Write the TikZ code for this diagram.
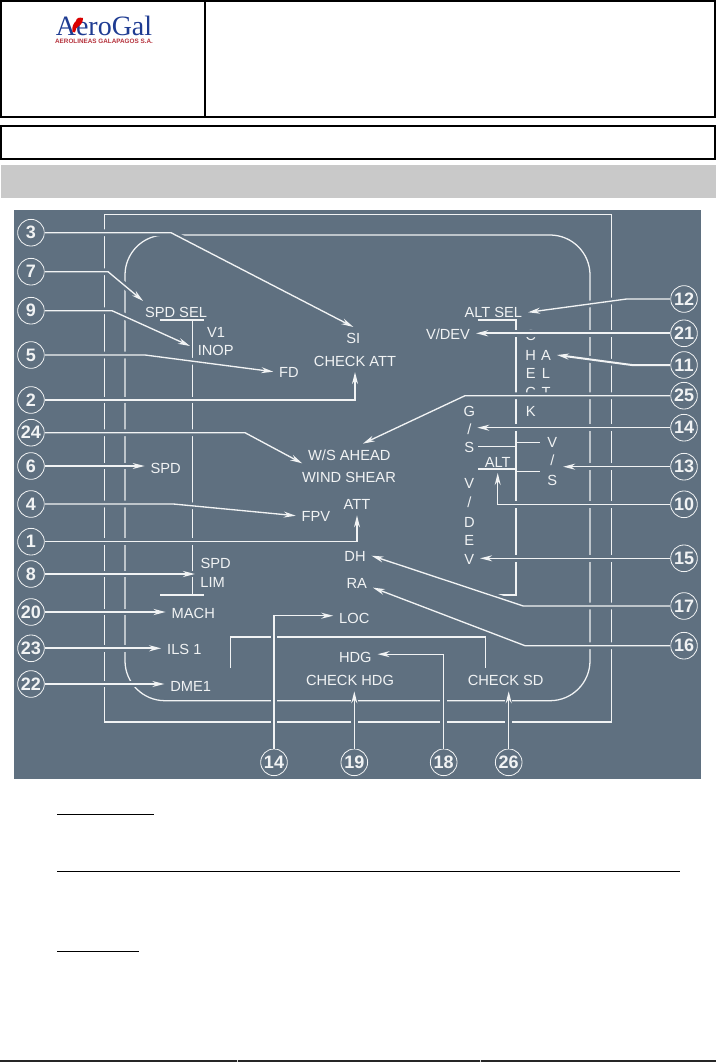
\documentclass[tikz,border=0pt]{standalone}
\usepackage{fontspec}
\setmainfont{Liberation Sans}
\newfontfamily\logofont{Liberation Serif}
\usepackage{xcolor}
\usepackage{tikz}
\usetikzlibrary{positioning, arrows.meta}

\definecolor{panelbg}{HTML}{5F7080}
\definecolor{inkline}{HTML}{F1F3F4}
\definecolor{logoblue}{HTML}{1F3C92}
\definecolor{logored}{HTML}{B5323C}

\tikzset{
    frame/.style={draw=inkline, line width=0.95pt},
    box/.style={draw=black, line width=1.5pt},
    lbl/.style={font=\fontsize{11}{12}\selectfont, text=inkline, text height=8pt, text depth=0pt, inner sep=2.5pt, outer sep=2pt},
    num/.style={circle, draw=inkline, line width=0.6pt, minimum size=20pt, inner sep=0pt, text=inkline, font=\fontsize{13.5}{14}\selectfont\bfseries},
    leader/.style={draw=inkline, line width=1pt, -{Stealth[length=9pt, width=4.5pt]}, preaction={draw=panelbg, line width=5pt, -}},
    heavy/.style={line width=1.5pt}
}

\begin{document}
\begin{tikzpicture}[x=0.75pt, y=-0.75pt]

\useasboundingbox (0,0) rectangle (716,1062);

\draw[box] (1,1) rectangle (715,117);
\draw[box] (204.7,1) -- (204.7,117);
\draw[box] (1,126) rectangle (715,158.7);
\fill[black!21] (1,165) rectangle (716,198);

\node[font=\logofont\fontsize{21}{22}\selectfont, text=logoblue, inner sep=0pt, text height=14pt, text depth=0pt] (logoname) at (104,26) {AeroGal};
\node[font=\fontsize{4.75}{5}\selectfont\bfseries, text=logored, inner sep=0pt, text height=3.4pt, text depth=0pt] (logosub) at (104,41.3) {AEROLINEAS GALAPAGOS S.A.};
\fill[red!85!black] (72.5,32) .. controls (71.5,26) and (74,23) .. (76,21) .. controls (76.5,18) and (79,17) .. (83,18) -- (82.5,21.5) .. controls (81,25.5) and (78,26) .. (76.5,28) -- (75,32.5) -- cycle;

\fill[panelbg] (14,210) rectangle (701,779);
\draw[frame] (104.5,214.7) rectangle (611.7,722);
\draw[frame, rounded corners=30pt] (125,235) rectangle (590,700.7);

\draw[frame] (160,320) -- (204,320);
\draw[frame] (192.3,320) -- (192.3,595);
\draw[frame] (160,595) -- (204,595);
\draw[frame] (477.7,320) -- (516,320) -- (516,595) -- (496.7,595);
\draw[frame] (478,446.7) -- (516,446.7);
\draw[frame] (516,442.7) -- (540,442.7);
\draw[frame] (478,469) -- (516,469) -- (516,471.7) -- (540,471.7);
\draw[frame] (230.7,668) -- (230.7,637) -- (485.7,637) -- (485.7,667.7);

\foreach \name/\x/\y/\txt in {
    lSpdSel/176/312.3/SPD SEL, lVone/216/331.7/V1, lInop/215.7/350/INOP, lFd/289/371.7/FD,
    lSi/353.3/338.3/SI, lChkAtt/355/360.7/CHECK ATT, lWsAhead/349.3/455/{W/S AHEAD}, lWindSh/349/476.7/WIND SHEAR,
    lSpd/165.7/467.7/SPD, lAtt/357/504/ATT, lFpv/316/515.7/FPV, lSpdLim/215.7/562.7/SPD, lLim/212.7/581.7/LIM,
    lMach/193.3/612.7/MACH, lIls/184.3/649.3/ILS 1, lDme/190.7/686/DME1, lDh/355/555.7/DH, lRa/356.7/583.3/RA,
    lLoc/354.3/618.3/LOC, lHdg/355.3/657.3/HDG, lChkHdg/350/680/CHECK HDG, lChkSd/505.7/680/CHECK SD,
    lAltSel/493.3/312.3/ALT SEL, lVdev/448/334.3/{V/DEV}, lAltBar/497.7/461.7/ALT,
    chkC/530.7/335/C, chkH/530.7/355/H, chkE/530.7/373.5/E, chkCc/530.7/392.5/C, chkK/530.7/411.5/K,
    altA/546/355/A, altL/546/373.5/L, altT/546/392.5/T,
    gsG/469.3/411/G, gsSl/469.3/429.3/{/}, gsS/469.3/446.7/S,
    vsV/552.3/441.7/V, vsSl/552.3/460/{/}, vsS/552.3/480/S,
    vdV/469.3/483.3/V, vdSl/469.3/501.7/{/}, vdD/469.3/521.7/D, vdE/469.3/540/E, vdVv/469.3/559.3/V} {
    \node[lbl] (\name) at (\x,\y) {\txt};
}

\foreach \i/\y in {3/232.7, 7/271.7, 9/310.7, 5/355, 2/400, 24/432.7, 6/466, 4/504, 1/541.7, 8/574, 20/612, 23/648.3, 22/684} {
    \node[num] (n\i) at (31,\y) {\i};
}
\foreach \i/\lab/\y in {12/12/299, 21/21/333.3, 11/11/365, 25/25/395.7, 14r/14/427.7, 13/13/466.7, 10/10/504.3, 15/15/558.3, 17/17/606, 16/16/645.7} {
    \node[num] (n\i) at (684,\y) {\lab};
}
\foreach \i/\lab/\x in {14b/14/274, 19/19/354.3, 18/18/443.7, 26/26/508.7} {
    \node[num] (n\i) at (\x,762.3) {\lab};
}

\coordinate (tipNine) at (190,346);
\coordinate (tipEight) at (195,574);

\draw[leader] (n3) -- (171,232.7) -- (lSi.north);
\draw[leader] (n7) -- (108,271.7) -- (lSpdSel.161);
\draw[leader] (n9) -- (112,310.7) -- (tipNine);
\draw[leader] (n5) -- (145,355) -- (lFd.west);
\draw[leader] (n2) -| (lChkAtt.south);
\draw[leader] (n24) -- (245,432.7) -- (lWsAhead.190);
\draw[leader] (n6) -- (n6 -| lSpd.west);
\draw[leader] (n4) -- (173.3,504) -- (lFpv.west);
\draw[leader] (n1) -| (lAtt.south);
\draw[leader, heavy] (n8) -- (tipEight);
\draw[leader, heavy] (n20) -- (n20 -| lMach.west);
\draw[leader, heavy] (n23) -- (n23 -| lIls.west);
\draw[leader] (n22) -- (n22 -| lDme.west);

\draw[leader] (n12) -- (626.7,299) -- (lAltSel.east);
\draw[leader, heavy] (n21) -- (n21 -| lVdev.east);
\draw[leader, heavy] (n11) -- (631.7,365) -- (altA.east);
\draw[leader] (n25) -- (465,395.7) -- (lWsAhead.40);
\draw[leader] (n14r) -- (n14r -| gsSl.east);
\draw[leader] (n13) -- (n13 -| vsS.east);
\draw[leader] (n10) -| (lAltBar.south);
\draw[leader] (n15) -- (n15 -| vdVv.east);
\draw[leader] (n17) -- (523.3,606) -- (lDh.east);
\draw[leader] (n16) -- (525,645.7) -- (lRa.-15);

\draw[leader] (n14b) |- (lLoc.173);
\draw[leader] (n19) -- (n19 |- lChkHdg.south);
\draw[leader] (n18) |- (lHdg.8);
\draw[leader] (n26) -- (n26 |- lChkSd.south);

\draw[black, line width=0.75pt] (57,814) -- (154,814);
\draw[black, line width=0.75pt] (57,871) -- (680,871);
\draw[black, line width=0.75pt] (57,951.3) -- (138.6,951.3);

\draw[black!85, line width=1.5pt] (0,1060.7) -- (716,1060.7);
\draw[black!15, line width=0.4pt] (237,1060) -- (237,1062);
\draw[black!15, line width=0.4pt] (480,1060) -- (480,1062);

\end{tikzpicture}
\end{document}
